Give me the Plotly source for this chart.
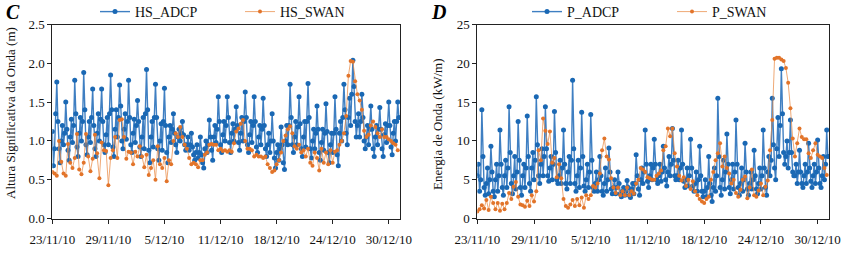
import plotly.graph_objects as go

# ---- data: ADCP 3-hourly, SWAN 6-hourly; hours since 23/11/10 00:00 ----
HS_ADCP = [
    1.12,0.68,0.90,1.35,1.76,1.25,0.90,0.72,  1.00,1.20,0.95,1.10,1.50,1.15,0.88,0.75,
    1.05,1.28,0.98,1.20,1.78,1.35,0.92,0.80,  1.10,1.30,1.00,1.25,1.88,1.40,0.95,0.82,
    1.05,1.25,0.98,1.30,1.67,1.20,0.90,0.80,  1.10,1.35,1.00,1.28,1.67,1.25,0.95,0.85,
    1.08,1.30,0.95,1.35,1.85,1.40,0.92,0.80,  1.15,1.40,1.05,1.30,1.72,1.45,1.00,0.90,
    1.15,1.35,1.02,1.25,1.78,1.30,0.95,0.85,  1.10,1.28,0.98,1.20,1.52,1.25,0.92,0.80,
    1.05,1.30,0.90,1.35,1.92,1.40,0.88,0.72,  1.05,1.25,0.92,1.30,1.73,1.30,0.90,0.75,
    1.00,1.22,0.88,1.25,1.68,1.20,0.85,0.72,  1.05,1.20,0.98,1.15,1.35,1.10,0.95,0.85,
    1.05,1.15,1.00,1.10,1.25,1.08,0.95,0.88,  0.95,1.05,0.88,0.95,1.10,0.92,0.82,0.75,
    0.85,0.95,0.78,0.85,1.05,0.82,0.72,0.65,  0.90,1.00,0.85,0.95,1.27,1.05,0.88,0.75,
    1.05,1.20,0.98,1.15,1.57,1.25,0.95,0.85,  1.08,1.25,1.00,1.20,1.57,1.30,0.98,0.85,
    1.10,1.22,1.00,1.15,1.44,1.20,0.98,0.88,  1.10,1.30,1.00,1.25,1.63,1.30,0.95,0.85,
    1.08,1.25,0.98,1.20,1.57,1.25,0.92,0.85,  1.05,1.20,0.95,1.15,1.55,1.20,0.90,0.80,
    0.95,1.10,0.85,1.00,1.35,1.00,0.78,0.65,  0.85,0.95,0.75,0.90,1.18,0.95,0.72,0.63,
    1.00,1.20,0.95,1.20,1.73,1.30,0.95,0.85,  1.05,1.25,0.95,1.18,1.57,1.22,0.90,0.80,
    1.05,1.25,0.92,1.25,1.74,1.30,0.90,0.78,  1.00,1.15,0.90,1.10,1.45,1.15,0.85,0.75,
    0.98,1.15,0.88,1.10,1.48,1.12,0.85,0.72,  0.95,1.10,0.85,1.10,1.57,1.15,0.82,0.68,
    1.10,1.25,1.00,1.30,1.73,1.40,1.10,0.95,  1.30,1.55,1.20,1.60,2.04,1.70,1.25,1.05,
    1.20,1.35,1.05,1.25,1.60,1.30,1.00,0.90,  1.05,1.20,0.95,1.15,1.45,1.15,0.90,0.80,
    1.05,1.20,0.95,1.15,1.43,1.15,0.90,0.80,  1.08,1.22,0.98,1.20,1.50,1.20,0.92,0.82,
    1.10,1.25,1.00,1.25,1.50,1.30]

HS_SWAN = [0.60,0.58,0.55,1.00, 0.73,0.58,0.55,0.96, 0.72,0.65,0.78,1.09, 0.63,0.57,0.72,1.09,
           0.80,0.61,0.77,1.08, 0.84,0.52,0.98,0.88, 0.87,0.43,0.78,0.88, 1.05,0.78,1.27,1.28,
           1.05,0.77,0.86,0.85, 0.70,0.86,0.80,0.93, 0.80,0.66,0.82,0.56, 0.65,0.75,0.50,0.93,
           0.70,0.65,0.78,0.48, 0.75,0.70,1.00,1.10, 1.05,1.18,1.05,0.95, 0.90,0.78,0.70,0.72,
           0.70,0.66,0.75,0.75, 0.82,0.85,0.95,0.96, 0.95,0.95,0.88,0.90, 0.87,0.88,0.86,0.88,
           0.86,0.97,1.12,1.16, 1.22,1.27,1.00,0.90, 0.90,0.88,0.80,0.82, 0.80,0.80,0.78,0.80,
           0.70,0.65,0.60,0.62, 0.70,0.75,0.85,1.00, 1.07,1.15,1.19,1.10, 0.93,0.90,0.95,0.85,
           0.88,0.80,0.90,0.72, 0.68,0.85,0.78,0.62, 0.90,0.72,0.85,0.70, 0.88,0.72,0.86,0.88,
           0.95,1.00,1.10,1.32, 1.84,2.03,2.02,1.77, 1.60,1.52,1.40,1.13, 1.05,1.08,1.20,1.25,
           1.18,1.10,1.05,1.15, 1.05,1.05,1.02,1.00, 0.97,0.95,0.88]

P_ADCP = [
    5.5,7.0,3.5,5.0,14.0,8.0,4.0,3.0,  4.5,6.5,3.2,5.0,9.3,6.0,3.5,2.8,
    5.0,7.0,3.5,5.5,11.4,7.0,4.0,3.0,  5.5,7.5,4.0,6.5,14.4,8.5,4.5,3.2,
    5.5,8.0,3.8,6.0,12.5,7.5,4.0,3.0,  5.5,7.0,4.0,6.5,13.2,8.0,4.5,3.5,
    6.5,8.5,5.0,7.5,15.7,9.5,5.5,4.5,  7.0,9.0,5.5,8.0,14.4,9.0,5.5,4.8,
    6.5,8.0,5.0,7.0,13.8,8.5,5.0,4.5,  5.5,7.5,4.5,6.5,11.4,7.0,4.5,3.8,
    6.0,8.0,4.5,7.5,17.8,9.0,4.5,3.5,  5.5,7.5,4.0,6.5,13.7,8.0,4.2,3.5,
    5.0,7.0,4.0,6.0,13.4,7.5,4.0,3.5,  4.5,6.0,3.5,5.0,8.0,5.5,3.5,3.0,
    4.5,6.5,3.5,5.0,9.1,6.0,3.8,3.2,  4.0,5.0,3.2,4.0,6.0,4.5,3.2,2.8,
    3.5,4.0,3.0,3.5,4.9,4.0,3.0,2.7,  3.8,4.5,3.2,4.5,8.2,5.5,3.8,3.0,
    5.0,6.5,4.5,6.0,11.4,7.0,4.8,4.0,  5.5,7.0,5.0,6.5,10.2,7.0,5.0,4.5,
    5.5,7.0,4.8,6.0,9.3,6.5,5.0,4.2,  6.0,8.0,5.5,7.0,11.6,7.5,5.5,5.0,
    5.5,7.5,5.0,6.5,11.4,7.0,4.8,4.0,  5.0,6.5,4.2,5.5,10.2,6.5,4.2,3.5,
    4.5,6.0,3.5,5.0,9.3,5.5,3.5,2.8,  3.5,5.0,2.8,4.0,8.0,4.5,3.0,2.2,
    4.0,6.5,3.5,5.5,15.5,8.0,4.0,3.0,  5.0,7.5,3.8,6.0,10.9,7.0,4.0,3.2,
    5.0,7.0,3.8,6.0,12.7,7.0,4.0,3.0,  4.5,6.5,3.5,5.0,9.7,6.0,3.8,3.0,
    4.5,6.0,3.8,5.0,8.8,5.5,3.8,3.2,  4.5,6.5,3.8,5.5,11.4,6.5,4.0,3.0,
    6.0,8.0,5.5,7.5,15.5,9.5,6.5,5.0,  9.0,13.0,8.0,12.0,19.3,13.5,8.5,7.0,
    8.0,10.0,6.5,8.5,12.7,8.5,6.0,5.5,  5.5,7.0,4.5,6.0,8.8,6.0,4.5,4.0,
    5.5,7.0,4.5,6.0,9.7,6.5,4.8,4.0,  5.5,7.0,4.5,6.0,10.1,6.5,4.5,4.0,
    5.5,8.0,5.0,7.0,11.4,8.0]

P_SWAN = [0.9,1.2,1.7,1.3, 2.4,1.1,2.8,2.0, 1.2,2.0,1.0,1.9, 1.2,2.0,3.3,2.5,
          4.1,4.7,2.8,1.8, 1.7,1.5,2.3,1.6, 3.0,2.2,3.5,8.8, 7.5,12.9,11.3,9.6,
          11.2,7.2,7.8,5.3, 7.0,5.2,2.5,1.6, 1.4,1.8,2.4,1.6, 2.5,1.7,2.7,1.4,
          3.0,2.5,3.0,4.2, 4.0,4.5,5.8,8.8, 10.3,8.0,7.6,5.2, 4.0,3.3,4.0,3.0,
          3.5,3.0,4.0,3.0, 3.5,3.2,4.5,5.0, 6.5,6.3,6.0,5.3, 5.2,5.0,5.0,5.5,
          5.8,6.2,8.8,9.3, 11.6,10.6,11.6,8.4, 6.7,5.5,4.9,5.3, 4.2,5.0,3.8,4.8,
          3.5,3.0,2.5,2.2, 2.0,2.5,2.8,5.0, 6.0,7.5,8.4,9.7, 6.7,8.0,6.5,5.8,
          4.5,5.0,3.3,2.8, 3.7,5.0,5.4,2.6, 4.0,6.3,3.0,2.8, 3.6,4.5,3.0,4.1,
          4.9,8.8,12.7,20.6, 20.7,20.7,20.5,20.3, 19.4,17.5,14.2,10.3, 8.0,9.7,11.6,10.5,
          10.2,10.2,8.4,7.8, 8.8,9.7,8.2,8.0, 7.8,6.5,5.6]

ADCP_STEP_H = 3
SWAN_STEP_H = 6
TICK_HOURS = [0, 150, 300, 450, 600, 750, 900]
TICK_LABELS = ["23/11/10", "29/11/10", "5/12/10", "11/12/10", "18/12/10", "24/12/10", "30/12/10"]

hours_adcp = [i * ADCP_STEP_H for i in range(len(HS_ADCP))]
hours_swan = [i * SWAN_STEP_H for i in range(len(HS_SWAN))]

W, H = 850, 255

def px(x):
    return x / W

def py(y):
    return 1 - y / H

FONT = "Liberation Serif"
BLUE_M = "#1A68B4"
BLUE_L = "#3F7FC2"
ORANGE_M = "#E2742A"
ORANGE_L = "rgba(234,140,72,0.75)"

fig = go.Figure()

def add_pair(axes, ya, ya_name, yb, yb_name, leg):
    fig.add_trace(go.Scatter(x=hours_adcp, y=ya, name=ya_name, mode="lines+markers",
                             line=dict(color=BLUE_L, width=1.4),
                             marker=dict(symbol="circle", size=5, color=BLUE_M),
                             xaxis=axes[0], yaxis=axes[1], legend=leg))
    fig.add_trace(go.Scatter(x=hours_swan, y=yb, name=yb_name, mode="lines+markers",
                             line=dict(color=ORANGE_L, width=1),
                             marker=dict(symbol="circle", size=4, color=ORANGE_M),
                             xaxis=axes[0], yaxis=axes[1], legend=leg))

add_pair(("x", "y"), HS_ADCP, "HS_ADCP", HS_SWAN, "HS_SWAN", "legend")
add_pair(("x2", "y2"), P_ADCP, "P_ADCP", P_SWAN, "P_SWAN", "legend2")

ydom = [py(218.5), py(24.5)]

axis_common = dict(showline=True, linecolor="#222", linewidth=1, mirror=True, automargin=False,
                   showgrid=False, zeroline=False, ticks="outside", ticklen=4,
                   tickcolor="#222", tickfont=dict(family=FONT, size=13, color="#111"))

fig.update_layout(
    template="none",
    width=W, height=H,
    margin=dict(l=0, r=0, t=0, b=0, autoexpand=False),
    paper_bgcolor="white", plot_bgcolor="white",
    xaxis=dict(domain=[px(52.3), px(400)], anchor="y", range=[0, 930],
               tickvals=TICK_HOURS, ticktext=TICK_LABELS, ticklabelstandoff=5, **axis_common),
    yaxis=dict(domain=ydom, anchor="x", range=[0, 2.5], dtick=0.5, tickformat=".1f", **axis_common),
    xaxis2=dict(domain=[px(477.3), px(829)], anchor="y2", range=[0, 930],
                tickvals=TICK_HOURS, ticktext=TICK_LABELS, ticklabelstandoff=5, **axis_common),
    yaxis2=dict(domain=ydom, anchor="x2", range=[0, 25], dtick=5, **axis_common),
    legend=dict(orientation="h", x=px(95), xanchor="left", y=py(12), yanchor="middle",
                font=dict(family=FONT, size=14, color="#111"), bgcolor="rgba(0,0,0,0)",
                entrywidth=100, entrywidthmode="pixels"),
    legend2=dict(orientation="h", x=px(527), xanchor="left", y=py(12), yanchor="middle",
                 font=dict(family=FONT, size=14, color="#111"), bgcolor="rgba(0,0,0,0)",
                 entrywidth=100, entrywidthmode="pixels"),
    showlegend=True,
)

ann = [
    dict(text="<b><i>C</i></b>", x=px(4), y=py(12), xanchor="left", yanchor="middle",
         font=dict(family=FONT, size=20, color="#000")),
    dict(text="<b><i>D</i></b>", x=px(429), y=py(12), xanchor="left", yanchor="middle",
         font=dict(family=FONT, size=20, color="#000")),
    dict(text="Altura Significativa da Onda (m)", x=px(10), y=py(113), textangle=-90,
         xanchor="center", yanchor="middle", font=dict(family=FONT, size=13, color="#111")),
    dict(text="Energia de Onda (kW/m)", x=px(437), y=py(124), textangle=-90,
         xanchor="center", yanchor="middle", font=dict(family=FONT, size=13, color="#111")),
]
for a in ann:
    a.update(xref="paper", yref="paper", showarrow=False)
fig.update_layout(annotations=ann)

# remove the default 8px page margin so the figure sits at the window's corner
fig.write_html("out.html", config={"displayModeBar": False},
               post_script="document.body.style.margin='0';")
